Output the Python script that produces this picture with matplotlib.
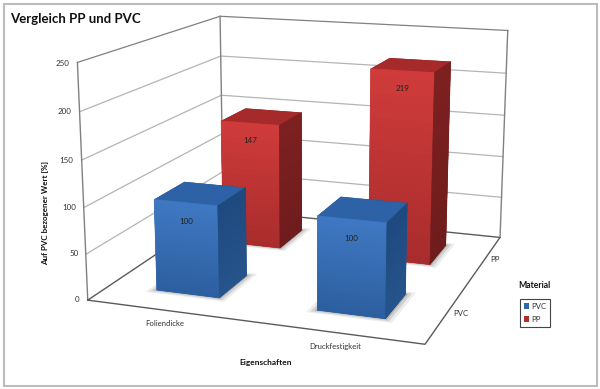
import numpy as np
import matplotlib
matplotlib.use('Agg')
import matplotlib.pyplot as plt
from matplotlib.colors import to_rgb
from matplotlib.patches import Patch, Rectangle
from mpl_toolkits.mplot3d import proj3d
from mpl_toolkits.mplot3d.art3d import Poly3DCollection

categories = ['Foliendicke', 'Druckfestigkeit']
materials = ['PVC', 'PP']
pvc_values = [100, 100]
pp_values = [147, 219]
z_ticks = [0, 50, 100, 150, 200, 250]

plt.rcParams['font.family'] = ['Lato', 'DejaVu Sans']

W, H = 600, 389
fig = plt.figure(figsize=(6, 3.89), dpi=100)

# square axes bigger than the figure, the box is placed by hand
side = 501
cx, cy = 302, 165
ax = fig.add_axes([(cx - side / 2) / W, (H - cy - side / 2) / H, side / W, side / H],
                  projection='3d', computed_zorder=False)
ax.set_axis_off()
ax.set_proj_type('persp', focal_length=0.48)
ax.view_init(elev=14, azim=-70.5)
ax.set_box_aspect((329, 326, 228), zoom=1)
ax.set_xlim(0, 2, view_margin=0)
ax.set_ylim(0, 2, view_margin=0)
ax.set_zlim(0, 250, view_margin=0)

grid = '#b4b4b4'
dark = '#5a5a5a'
for z in z_ticks[1:]:
    c = '#808080' if z == 250 else grid
    ax.plot([0, 0, 2], [0, 2, 2], [z, z, z], color=c, lw=0.9, zorder=1)
ax.plot([0, 0], [0, 0], [0, 250], color='#808080', lw=1, zorder=1)
ax.plot([0, 0], [2, 2], [0, 250], color='#808080', lw=1, zorder=1)
ax.plot([2, 2], [2, 2], [0, 250], color='#808080', lw=1, zorder=1)
ax.plot([0, 2, 2, 0, 0], [0, 0, 2, 2, 0], [0, 0, 0, 0, 0], color=dark, lw=1, zorder=1)


def draw_bar(xc, yc, val, front_top, front_bot, side_top, side_bot, top_col, order):
    wx, wy = 0.40, 0.42
    x0, x1 = xc - wx / 2, xc + wx / 2
    y0, y1 = yc - wy / 2, yc + wy / 2
    # soft shadow on the floor
    for g, a in [(0.05, 0.10), (0.03, 0.16), (0.012, 0.25)]:
        sh = [[(x0 - g, y0 - g, 0), (x1 + g, y0 - g, 0), (x1 + g, y1 + g, 0), (x0 - g, y1 + g, 0)]]
        ax.add_collection3d(Poly3DCollection(sh, facecolors=[(0.3, 0.3, 0.3, a)],
                                             edgecolors='none', zorder=order))
    ax.bar3d(x0, y0, 0, wx, wy, val, shade=False, zorder=order + 0.1,
             color=[front_bot, top_col, front_top, side_top, side_top, side_top])
    # gradient strips on front and right face
    n = 24
    zs = np.linspace(0, val, n + 1)
    for face, c_top, c_bot in [('front', front_top, front_bot), ('side', side_top, side_bot)]:
        verts, cols = [], []
        for i in range(n):
            t = i / (n - 1)
            cols.append(tuple(np.array(to_rgb(c_bot)) * (1 - t) + np.array(to_rgb(c_top)) * t))
            if face == 'front':
                verts.append([(x0, y0, zs[i]), (x1, y0, zs[i]), (x1, y0, zs[i + 1]), (x0, y0, zs[i + 1])])
            else:
                verts.append([(x1, y0, zs[i]), (x1, y1, zs[i]), (x1, y1, zs[i + 1]), (x1, y0, zs[i + 1])])
        ax.add_collection3d(Poly3DCollection(verts, facecolors=cols, edgecolors=cols,
                                             linewidths=0.4, zorder=order + 0.2))
    # value label, projected by hand so it is a plain figure text
    px, py, _ = proj3d.proj_transform(xc, y0, val - 20, ax.get_proj())
    lx, ly = fig.transFigure.inverted().transform(ax.transData.transform((px, py)))
    fig.text(lx, ly, str(val), ha='center', va='center', fontsize=5.8, color='#222222')


blue = ('#3f78c2', '#2c5f9f', '#1f4a80', '#26548c', '#2d63a6')
red = ('#cf3b3b', '#a92c2c', '#7d2020', '#6f1c1c', '#a62a2a')
xs = [0.5, 1.5]
draw_bar(xs[0], 1.5, pp_values[0], *red, 10)
draw_bar(xs[1], 1.5, pp_values[1], *red, 11)
draw_bar(xs[0], 0.5, pvc_values[0], *blue, 12)
draw_bar(xs[1], 0.5, pvc_values[1], *blue, 13)


def px_text(x, y, s, **kw):
    kw.setdefault('ha', 'center')
    kw.setdefault('va', 'center')
    kw.setdefault('color', '#333333')
    fig.text(x / W, 1 - y / H, s, **kw)


fig.add_artist(Rectangle((3.5 / W, 1 - 386 / H), 593 / W, 382 / H, transform=fig.transFigure,
                         fill=False, edgecolor='#bcbcbc', lw=1.5))
px_text(75.5, 19, 'Vergleich PP und PVC', fontsize=9.5, fontweight='bold', color='#111111')
for tx, ty, z in zip([77, 74, 69, 66, 65, 63], [299, 254, 207, 160, 112, 63], z_ticks):
    px_text(tx, ty, str(z), fontsize=5.8)
px_text(46, 213, 'Auf PVC bezogener Wert [%]', fontsize=5.8, fontweight='bold', rotation=90, color='#111111')
px_text(165, 323, categories[0], fontsize=5.6)
px_text(335, 346, categories[1], fontsize=5.6)
px_text(266, 363, 'Eigenschaften', fontsize=6, fontweight='bold', color='#111111')
px_text(461, 313, materials[0], fontsize=5.6)
px_text(495, 259, materials[1], fontsize=5.6)
px_text(534, 286, 'Material', fontsize=6.2, fontweight='bold', color='#111111')

handles = [Patch(facecolor='#2f66ad', label=materials[0]), Patch(facecolor='#b02e2e', label=materials[1])]
leg = fig.legend(handles=handles, loc='center', bbox_to_anchor=(535 / W, 1 - 313 / H), fontsize=5.6,
                 frameon=True, fancybox=False, edgecolor='#444444', framealpha=1,
                 handlelength=0.7, handleheight=0.8, handletextpad=0.25, labelspacing=0.8,
                 borderpad=0.45, labelcolor='#333333')
leg.get_frame().set_linewidth(0.8)

fig.savefig('out.png', dpi=100)
